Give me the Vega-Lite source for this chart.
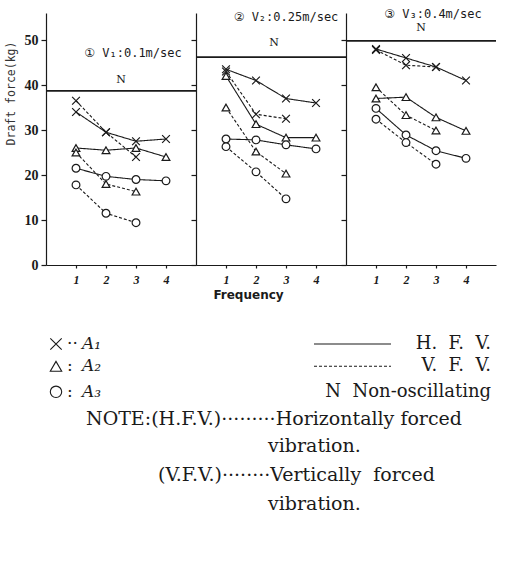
{
  "$schema": "https://vega.github.io/schema/vega-lite/v6.json",
  "background": "white",
  "padding": {"left": 5, "top": 7, "right": 0, "bottom": 0},
  "datasets": {
    "obs": [
      {"panel": "1", "amp": "A1", "mode": "H.F.V.", "freq": 1, "force": 34},
      {"panel": "1", "amp": "A1", "mode": "H.F.V.", "freq": 2, "force": 29.5},
      {"panel": "1", "amp": "A1", "mode": "H.F.V.", "freq": 3, "force": 27.5},
      {"panel": "1", "amp": "A1", "mode": "H.F.V.", "freq": 4, "force": 28},
      {"panel": "1", "amp": "A1", "mode": "V.F.V.", "freq": 1, "force": 36.5},
      {"panel": "1", "amp": "A1", "mode": "V.F.V.", "freq": 2, "force": 29.5},
      {"panel": "1", "amp": "A1", "mode": "V.F.V.", "freq": 3, "force": 24},
      {"panel": "1", "amp": "A2", "mode": "H.F.V.", "freq": 1, "force": 26},
      {"panel": "1", "amp": "A2", "mode": "H.F.V.", "freq": 2, "force": 25.5},
      {"panel": "1", "amp": "A2", "mode": "H.F.V.", "freq": 3, "force": 26},
      {"panel": "1", "amp": "A2", "mode": "H.F.V.", "freq": 4, "force": 24},
      {"panel": "1", "amp": "A2", "mode": "V.F.V.", "freq": 1, "force": 25},
      {"panel": "1", "amp": "A2", "mode": "V.F.V.", "freq": 2, "force": 18},
      {"panel": "1", "amp": "A2", "mode": "V.F.V.", "freq": 3, "force": 16.3},
      {"panel": "1", "amp": "A3", "mode": "H.F.V.", "freq": 1, "force": 21.5},
      {"panel": "1", "amp": "A3", "mode": "H.F.V.", "freq": 2, "force": 19.7},
      {"panel": "1", "amp": "A3", "mode": "H.F.V.", "freq": 3, "force": 19},
      {"panel": "1", "amp": "A3", "mode": "H.F.V.", "freq": 4, "force": 18.7},
      {"panel": "1", "amp": "A3", "mode": "V.F.V.", "freq": 1, "force": 17.8},
      {"panel": "1", "amp": "A3", "mode": "V.F.V.", "freq": 2, "force": 11.5},
      {"panel": "1", "amp": "A3", "mode": "V.F.V.", "freq": 3, "force": 9.4},
      {"panel": "2", "amp": "A1", "mode": "H.F.V.", "freq": 1, "force": 43.5},
      {"panel": "2", "amp": "A1", "mode": "H.F.V.", "freq": 2, "force": 41},
      {"panel": "2", "amp": "A1", "mode": "H.F.V.", "freq": 3, "force": 37},
      {"panel": "2", "amp": "A1", "mode": "H.F.V.", "freq": 4, "force": 36},
      {"panel": "2", "amp": "A1", "mode": "V.F.V.", "freq": 1, "force": 43},
      {"panel": "2", "amp": "A1", "mode": "V.F.V.", "freq": 2, "force": 33.5},
      {"panel": "2", "amp": "A1", "mode": "V.F.V.", "freq": 3, "force": 32.5},
      {"panel": "2", "amp": "A2", "mode": "H.F.V.", "freq": 1, "force": 42},
      {"panel": "2", "amp": "A2", "mode": "H.F.V.", "freq": 2, "force": 31.3},
      {"panel": "2", "amp": "A2", "mode": "H.F.V.", "freq": 3, "force": 28.3},
      {"panel": "2", "amp": "A2", "mode": "H.F.V.", "freq": 4, "force": 28.3},
      {"panel": "2", "amp": "A2", "mode": "V.F.V.", "freq": 1, "force": 35},
      {"panel": "2", "amp": "A2", "mode": "V.F.V.", "freq": 2, "force": 25.2},
      {"panel": "2", "amp": "A2", "mode": "V.F.V.", "freq": 3, "force": 20.3},
      {"panel": "2", "amp": "A3", "mode": "H.F.V.", "freq": 1, "force": 28},
      {"panel": "2", "amp": "A3", "mode": "H.F.V.", "freq": 2, "force": 27.8},
      {"panel": "2", "amp": "A3", "mode": "H.F.V.", "freq": 3, "force": 26.7},
      {"panel": "2", "amp": "A3", "mode": "H.F.V.", "freq": 4, "force": 25.8},
      {"panel": "2", "amp": "A3", "mode": "V.F.V.", "freq": 1, "force": 26.3},
      {"panel": "2", "amp": "A3", "mode": "V.F.V.", "freq": 2, "force": 20.7},
      {"panel": "2", "amp": "A3", "mode": "V.F.V.", "freq": 3, "force": 14.7},
      {"panel": "3", "amp": "A1", "mode": "H.F.V.", "freq": 1, "force": 48},
      {"panel": "3", "amp": "A1", "mode": "H.F.V.", "freq": 2, "force": 46},
      {"panel": "3", "amp": "A1", "mode": "H.F.V.", "freq": 3, "force": 44},
      {"panel": "3", "amp": "A1", "mode": "H.F.V.", "freq": 4, "force": 41},
      {"panel": "3", "amp": "A1", "mode": "V.F.V.", "freq": 1, "force": 47.8},
      {"panel": "3", "amp": "A1", "mode": "V.F.V.", "freq": 2, "force": 44.4},
      {"panel": "3", "amp": "A1", "mode": "V.F.V.", "freq": 3, "force": 44},
      {"panel": "3", "amp": "A2", "mode": "H.F.V.", "freq": 1, "force": 37},
      {"panel": "3", "amp": "A2", "mode": "H.F.V.", "freq": 2, "force": 37.3},
      {"panel": "3", "amp": "A2", "mode": "H.F.V.", "freq": 3, "force": 32.8},
      {"panel": "3", "amp": "A2", "mode": "H.F.V.", "freq": 4, "force": 29.8},
      {"panel": "3", "amp": "A2", "mode": "V.F.V.", "freq": 1, "force": 39.5},
      {"panel": "3", "amp": "A2", "mode": "V.F.V.", "freq": 2, "force": 33.3},
      {"panel": "3", "amp": "A2", "mode": "V.F.V.", "freq": 3, "force": 29.9},
      {"panel": "3", "amp": "A3", "mode": "H.F.V.", "freq": 1, "force": 34.8},
      {"panel": "3", "amp": "A3", "mode": "H.F.V.", "freq": 2, "force": 28.9},
      {"panel": "3", "amp": "A3", "mode": "H.F.V.", "freq": 3, "force": 25.4},
      {"panel": "3", "amp": "A3", "mode": "H.F.V.", "freq": 4, "force": 23.7},
      {"panel": "3", "amp": "A3", "mode": "V.F.V.", "freq": 1, "force": 32.4},
      {"panel": "3", "amp": "A3", "mode": "V.F.V.", "freq": 2, "force": 27.2},
      {"panel": "3", "amp": "A3", "mode": "V.F.V.", "freq": 3, "force": 22.4}
    ],
    "panels": [
      {"panel": "1", "N": 38.7, "label": "① V₁:0.1m/sec"},
      {"panel": "2", "N": 46.2, "label": "② V₂:0.25m/sec"},
      {"panel": "3", "N": 49.8, "label": "③ V₃:0.4m/sec"}
    ],
    "key": [
      {"line": 0, "amp": "A1", "sep": "··", "var": "A₁", "mode": "H.F.V.", "label": "H.\u00a0 F.\u00a0 V."},
      {"line": 1, "amp": "A2", "sep": ":", "var": "A₂", "mode": "V.F.V.", "label": "V.\u00a0 F.\u00a0 V."},
      {"line": 2, "amp": "A3", "sep": ":", "var": "A₃", "label": "N\u00a0\u00a0Non-oscillating"}
    ],
    "notes": [
      {"line": 3, "col": "note", "text": "NOTE:(H.F.V.)·········Horizontally forced"},
      {"line": 4, "col": "cont", "text": "vibration."},
      {"line": 5, "col": "vfv", "text": "(V.F.V.)········Vertically\u00a0\u00a0forced"},
      {"line": 6, "col": "cont", "text": "vibration."}
    ]
  },
  "config": {
    "view": {"stroke": null},
    "axis": {"grid": false, "domainColor": "#1a1a1a", "tickColor": "#1a1a1a", "labelColor": "#1a1a1a", "titleColor": "#1a1a1a", "domainWidth": 1.2, "tickWidth": 1.2}
  },
  "vconcat": [
    {
      "hconcat": [
        {
          "width": 150, "height": 252,
          "layer": [
            {
              "data": {"name": "obs"},
              "transform": [{"filter": "datum.panel == '1'"}],
              "mark": {"type": "line", "color": "#1a1a1a", "strokeWidth": 1.1},
              "encoding": {
                "x": {"field": "freq", "type": "quantitative", "title": null, "scale": {"domain": [0, 5], "nice": false},
                      "axis": {"values": [1, 2, 3, 4], "format": "d", "labelFont": "Liberation Serif", "labelFontWeight": "bold", "labelFontStyle": "italic", "labelFontSize": 12, "tickSize": 3, "labelPadding": 6}},
                "y": {"field": "force", "type": "quantitative", "title": "Draft force(kg)", "scale": {"domain": [0, 56], "nice": false},
                      "axis": {"values": [0, 10, 20, 30, 40, 50], "labelFont": "Liberation Serif", "labelFontWeight": "bold", "labelFontSize": 14, "tickSize": 5, "labelPadding": 3, "titleFont": "DejaVu Sans Mono", "titleFontSize": 11.5, "titleFontWeight": "normal", "titleColor": "#333", "titlePadding": 8, "titleY": 80}},
                "strokeDash": {"field": "mode", "type": "nominal", "scale": {"domain": ["H.F.V.", "V.F.V."], "range": [[1, 0], [3, 2]]}, "legend": null},
                "detail": {"field": "amp", "type": "nominal"}
              }
            },
            {
              "data": {"name": "obs"},
              "transform": [{"filter": "datum.panel == '1'"}],
              "mark": {"type": "point", "filled": true, "fill": "white", "stroke": "#1a1a1a", "strokeWidth": 1.2, "opacity": 1, "size": 60},
              "encoding": {
                "x": {"field": "freq", "type": "quantitative", "title": null},
                "y": {"field": "force", "type": "quantitative", "title": "Draft force(kg)"},
                "shape": {"field": "amp", "type": "nominal", "scale": {"domain": ["A1", "A2", "A3"], "range": ["M-1,-1L1,1M1,-1L-1,1", "triangle-up", "circle"]}, "legend": null}
              }
            },
            {
              "data": {"name": "panels"},
              "transform": [{"filter": "datum.panel == '1'"}],
              "mark": {"type": "rule", "color": "#1a1a1a", "strokeWidth": 1.6},
              "encoding": {"y": {"field": "N", "type": "quantitative", "title": "Draft force(kg)"}}
            },
            {
              "data": {"name": "panels"},
              "transform": [{"filter": "datum.panel == '1'"}],
              "mark": {"type": "text", "dy": -11, "font": "DejaVu Serif", "fontSize": 11, "color": "#1a1a1a"},
              "encoding": {"x": {"datum": 2.5, "type": "quantitative", "title": null}, "y": {"field": "N", "type": "quantitative", "title": "Draft force(kg)"}, "text": {"value": "N"}}
            },
            {
              "data": {"name": "panels"},
              "transform": [{"filter": "datum.panel == '1'"}],
              "mark": {"type": "text", "dy": -38, "font": "DejaVu Sans Mono, DejaVu Sans, Noto Sans CJK JP", "fontSize": 12, "color": "#1a1a1a"},
              "encoding": {"x": {"datum": 2.9, "type": "quantitative", "title": null}, "y": {"field": "N", "type": "quantitative", "title": "Draft force(kg)"}, "text": {"field": "label"}}
            }
          ]
        },
        {
          "width": 150, "height": 252,
          "layer": [
            {
              "data": {"name": "obs"},
              "transform": [{"filter": "datum.panel == '2'"}],
              "mark": {"type": "line", "color": "#1a1a1a", "strokeWidth": 1.1},
              "encoding": {
                "x": {"field": "freq", "type": "quantitative", "title": "Frequency", "scale": {"domain": [0, 5], "nice": false},
                      "axis": {"values": [1, 2, 3, 4], "format": "d", "labelFont": "Liberation Serif", "labelFontWeight": "bold", "labelFontStyle": "italic", "labelFontSize": 12, "tickSize": 3, "labelPadding": 6, "titleFont": "DejaVu Sans", "titleFontWeight": "bold", "titleFontSize": 12, "titlePadding": 4, "titleX": 52}},
                "y": {"field": "force", "type": "quantitative", "title": null, "scale": {"domain": [0, 56], "nice": false},
                      "axis": {"values": [0, 10, 20, 30, 40, 50], "labels": false, "tickSize": 5}},
                "strokeDash": {"field": "mode", "type": "nominal", "legend": null},
                "detail": {"field": "amp", "type": "nominal"}
              }
            },
            {
              "data": {"name": "obs"},
              "transform": [{"filter": "datum.panel == '2'"}],
              "mark": {"type": "point", "filled": true, "fill": "white", "stroke": "#1a1a1a", "strokeWidth": 1.2, "opacity": 1, "size": 60},
              "encoding": {
                "x": {"field": "freq", "type": "quantitative", "title": "Frequency"},
                "y": {"field": "force", "type": "quantitative", "title": null},
                "shape": {"field": "amp", "type": "nominal", "legend": null}
              }
            },
            {
              "data": {"name": "panels"},
              "transform": [{"filter": "datum.panel == '2'"}],
              "mark": {"type": "rule", "color": "#1a1a1a", "strokeWidth": 1.6},
              "encoding": {"y": {"field": "N", "type": "quantitative", "title": null}}
            },
            {
              "data": {"name": "panels"},
              "transform": [{"filter": "datum.panel == '2'"}],
              "mark": {"type": "text", "dy": -14, "font": "DejaVu Serif", "fontSize": 11, "color": "#1a1a1a"},
              "encoding": {"x": {"datum": 2.6, "type": "quantitative", "title": "Frequency"}, "y": {"field": "N", "type": "quantitative", "title": null}, "text": {"value": "N"}}
            },
            {
              "data": {"name": "panels"},
              "transform": [{"filter": "datum.panel == '2'"}],
              "mark": {"type": "text", "dy": -40, "font": "DejaVu Sans Mono, DejaVu Sans, Noto Sans CJK JP", "fontSize": 12, "color": "#1a1a1a"},
              "encoding": {"x": {"datum": 3.0, "type": "quantitative", "title": "Frequency"}, "y": {"field": "N", "type": "quantitative", "title": null}, "text": {"field": "label"}}
            }
          ]
        },
        {
          "width": 150, "height": 252,
          "layer": [
            {
              "data": {"name": "obs"},
              "transform": [{"filter": "datum.panel == '3'"}],
              "mark": {"type": "line", "color": "#1a1a1a", "strokeWidth": 1.1},
              "encoding": {
                "x": {"field": "freq", "type": "quantitative", "title": null, "scale": {"domain": [0, 5], "nice": false},
                      "axis": {"values": [1, 2, 3, 4], "format": "d", "labelFont": "Liberation Serif", "labelFontWeight": "bold", "labelFontStyle": "italic", "labelFontSize": 12, "tickSize": 3, "labelPadding": 6}},
                "y": {"field": "force", "type": "quantitative", "title": null, "scale": {"domain": [0, 56], "nice": false},
                      "axis": {"values": [0, 10, 20, 30, 40, 50], "labels": false, "tickSize": 5}},
                "strokeDash": {"field": "mode", "type": "nominal", "legend": null},
                "detail": {"field": "amp", "type": "nominal"}
              }
            },
            {
              "data": {"name": "obs"},
              "transform": [{"filter": "datum.panel == '3'"}],
              "mark": {"type": "point", "filled": true, "fill": "white", "stroke": "#1a1a1a", "strokeWidth": 1.2, "opacity": 1, "size": 60},
              "encoding": {
                "x": {"field": "freq", "type": "quantitative", "title": null},
                "y": {"field": "force", "type": "quantitative", "title": null},
                "shape": {"field": "amp", "type": "nominal", "legend": null}
              }
            },
            {
              "data": {"name": "panels"},
              "transform": [{"filter": "datum.panel == '3'"}],
              "mark": {"type": "rule", "color": "#1a1a1a", "strokeWidth": 1.6},
              "encoding": {"y": {"field": "N", "type": "quantitative", "title": null}}
            },
            {
              "mark": {"type": "rule", "color": "#1a1a1a", "strokeWidth": 1.2},
              "encoding": {"x": {"datum": 5, "type": "quantitative", "title": null}, "y": {"datum": 0, "type": "quantitative", "title": null}, "y2": {"datum": 53}}
            },
            {
              "data": {"name": "panels"},
              "transform": [{"filter": "datum.panel == '3'"}],
              "mark": {"type": "text", "dy": -13, "font": "DejaVu Serif", "fontSize": 11, "color": "#1a1a1a"},
              "encoding": {"x": {"datum": 2.5, "type": "quantitative", "title": null}, "y": {"field": "N", "type": "quantitative", "title": null}, "text": {"value": "N"}}
            },
            {
              "data": {"name": "panels"},
              "transform": [{"filter": "datum.panel == '3'"}],
              "mark": {"type": "text", "dy": -27, "font": "DejaVu Sans Mono, DejaVu Sans, Noto Sans CJK JP", "fontSize": 12, "color": "#1a1a1a"},
              "encoding": {"x": {"datum": 2.9, "type": "quantitative", "title": null}, "y": {"field": "N", "type": "quantitative", "title": null}, "text": {"field": "label"}}
            }
          ]
        }
      ],
      "spacing": 0,
      "bounds": "flush"
    },
    {
      "width": 450, "height": 160,
      "layer": [
        {
          "data": {"name": "key"},
          "mark": {"type": "point", "filled": true, "fill": "white", "stroke": "#1a1a1a", "strokeWidth": 1.1, "opacity": 1, "size": 130},
          "encoding": {
            "x": {"datum": 10, "type": "quantitative", "scale": {"domain": [0, 450]}, "axis": null},
            "y": {"field": "line", "type": "quantitative", "scale": {"type": "pow", "exponent": 1.1, "domain": [0, 6], "reverse": true}, "axis": null},
            "shape": {"field": "amp", "type": "nominal", "legend": null}
          }
        },
        {
          "data": {"name": "key"},
          "mark": {"type": "text", "align": "left", "baseline": "middle", "font": "DejaVu Serif", "fontSize": 17, "color": "#1a1a1a"},
          "encoding": {"x": {"datum": 21, "type": "quantitative"}, "y": {"field": "line", "type": "quantitative"}, "text": {"field": "sep"}}
        },
        {
          "data": {"name": "key"},
          "mark": {"type": "text", "align": "left", "baseline": "middle", "font": "DejaVu Serif", "fontStyle": "italic", "fontSize": 17, "color": "#1a1a1a"},
          "encoding": {"x": {"datum": 36, "type": "quantitative"}, "y": {"field": "line", "type": "quantitative"}, "text": {"field": "var"}}
        },
        {
          "data": {"name": "key"},
          "transform": [{"filter": "isValid(datum.mode)"}],
          "mark": {"type": "rule", "color": "#1a1a1a", "strokeWidth": 1.1},
          "encoding": {"x": {"datum": 268, "type": "quantitative"}, "x2": {"datum": 345}, "y": {"field": "line", "type": "quantitative"}, "strokeDash": {"field": "mode", "type": "nominal", "legend": null}}
        },
        {
          "data": {"name": "key"},
          "mark": {"type": "text", "align": "right", "baseline": "middle", "font": "DejaVu Serif", "fontSize": 18, "color": "#1a1a1a"},
          "encoding": {"x": {"datum": 445, "type": "quantitative"}, "y": {"field": "line", "type": "quantitative"}, "text": {"field": "label"}}
        },
        {
          "data": {"name": "notes"},
          "transform": [{"filter": "datum.col == 'note'"}],
          "mark": {"type": "text", "align": "left", "baseline": "middle", "font": "DejaVu Serif", "fontSize": 19, "color": "#1a1a1a"},
          "encoding": {"x": {"datum": 40, "type": "quantitative"}, "y": {"field": "line", "type": "quantitative"}, "text": {"field": "text"}}
        },
        {
          "data": {"name": "notes"},
          "transform": [{"filter": "datum.col == 'vfv'"}],
          "mark": {"type": "text", "align": "left", "baseline": "middle", "font": "DejaVu Serif", "fontSize": 19, "color": "#1a1a1a"},
          "encoding": {"x": {"datum": 112, "type": "quantitative"}, "y": {"field": "line", "type": "quantitative"}, "text": {"field": "text"}}
        },
        {
          "data": {"name": "notes"},
          "transform": [{"filter": "datum.col == 'cont'"}],
          "mark": {"type": "text", "align": "left", "baseline": "middle", "font": "DejaVu Serif", "fontSize": 19, "color": "#1a1a1a"},
          "encoding": {"x": {"datum": 222, "type": "quantitative"}, "y": {"field": "line", "type": "quantitative"}, "text": {"field": "text"}}
        }
      ]
    }
  ],
  "spacing": 35
}
